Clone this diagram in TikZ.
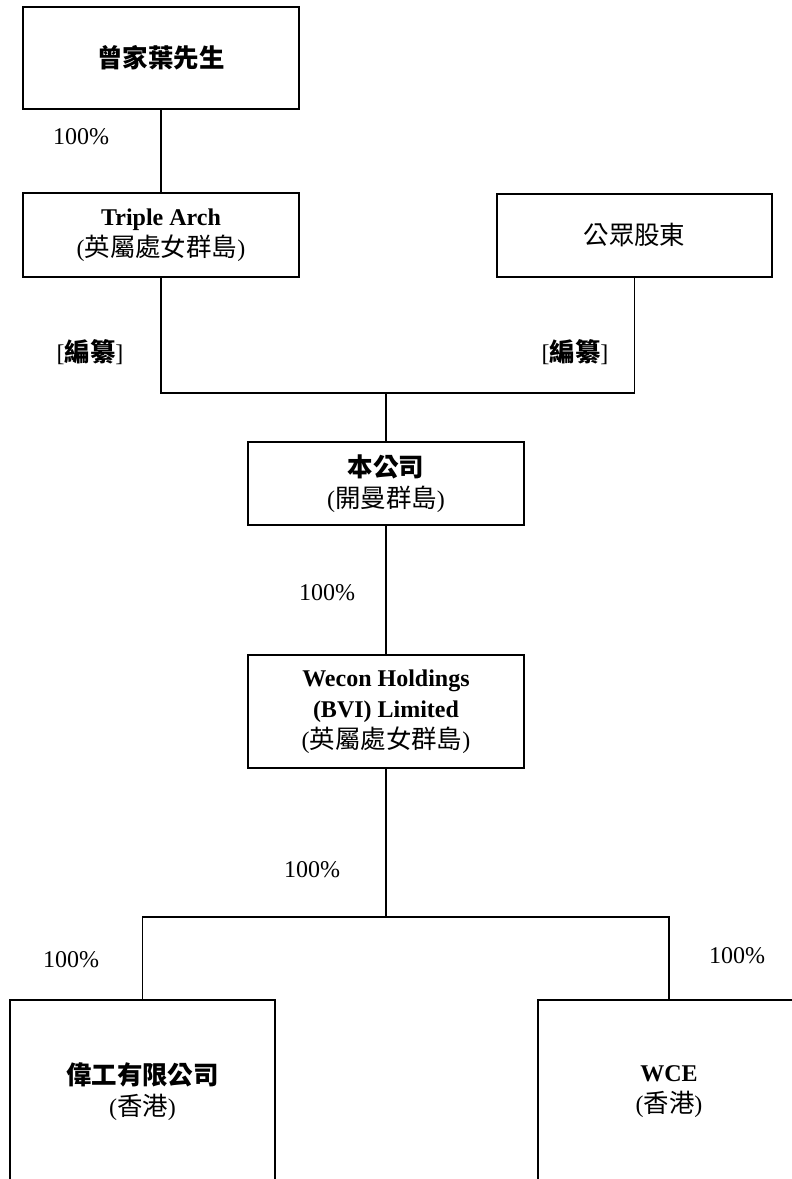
\documentclass[tikz,border=0pt]{standalone}
\usepackage{fontspec}
\setmainfont{Liberation Serif}
\newfontfamily\cjk[Scale=1.06]{Noto Sans CJK TC}
\tikzstyle{co}=[draw=black,line width=1pt,inner sep=0pt,align=center,font=\fontsize{12}{15.5}\selectfont]
\tikzstyle{pct}=[font=\fontsize{12}{14}\selectfont]
\tikzstyle{l}=[line width=0.9pt]

\begin{document}
\begin{tikzpicture}[x=0.5pt,y=-0.5pt]
    \useasboundingbox (0,0) rectangle (792,1179);
    % boxes
    \node[co,minimum width=138pt,minimum height=51pt] (1) at (161,58) {{\cjk\bfseries 曾家葉先生}};
    \node[co,minimum width=138pt,minimum height=42pt] (2) at (161,235) {\textbf{Triple Arch}\\({\cjk 英屬處女群島})};
    \node[co,minimum width=137.5pt,minimum height=41.5pt] (3) at (634.5,235.5) {{\cjk 公眾股東}};
    \node[co,minimum width=138pt,minimum height=41.5pt] (4) at (386,483.5) {{\cjk\bfseries 本公司}\\({\cjk 開曼群島})};
    \node[co,minimum width=138pt,minimum height=56.5pt] (5) at (386,711.5) {\textbf{Wecon Holdings}\\\textbf{(BVI) Limited}\\({\cjk 英屬處女群島})};
    \node[co,minimum width=132.5pt,minimum height=92pt] (6) at (142.5,1092) {{\cjk\bfseries 偉工有限公司}\\({\cjk 香港})};
    \node[co,minimum width=131pt,minimum height=92pt] (7) at (669,1092) {\textbf{WCE}\\({\cjk 香港})};
    % joins
    \coordinate (j1) at (386,393);
    \coordinate (j2) at (386,917);
    \draw[l] (1) -- (2);
    \draw[l] (2.south) |- (j1) -| (3.south);
    \draw[l] (j1) -- (4.north);
    \draw[l] (4) -- (5);
    \draw[l] (5.south) -- (j2);
    \draw[l] (6.north) |- (j2) -| (7.north);
    % labels
    \node[pct] (p1) at (81,137) {100\%};
    \node[pct] (e1) at (90,352) {[{\cjk\bfseries 編纂}]};
    \node[pct] (e2) at (575,352) {[{\cjk\bfseries 編纂}]};
    \node[pct] (p2) at (327,593) {100\%};
    \node[pct] (p3) at (312,870) {100\%};
    \node[pct] (p4) at (71,960) {100\%};
    \node[pct] (p5) at (737,956) {100\%};
\end{tikzpicture}
\end{document}
